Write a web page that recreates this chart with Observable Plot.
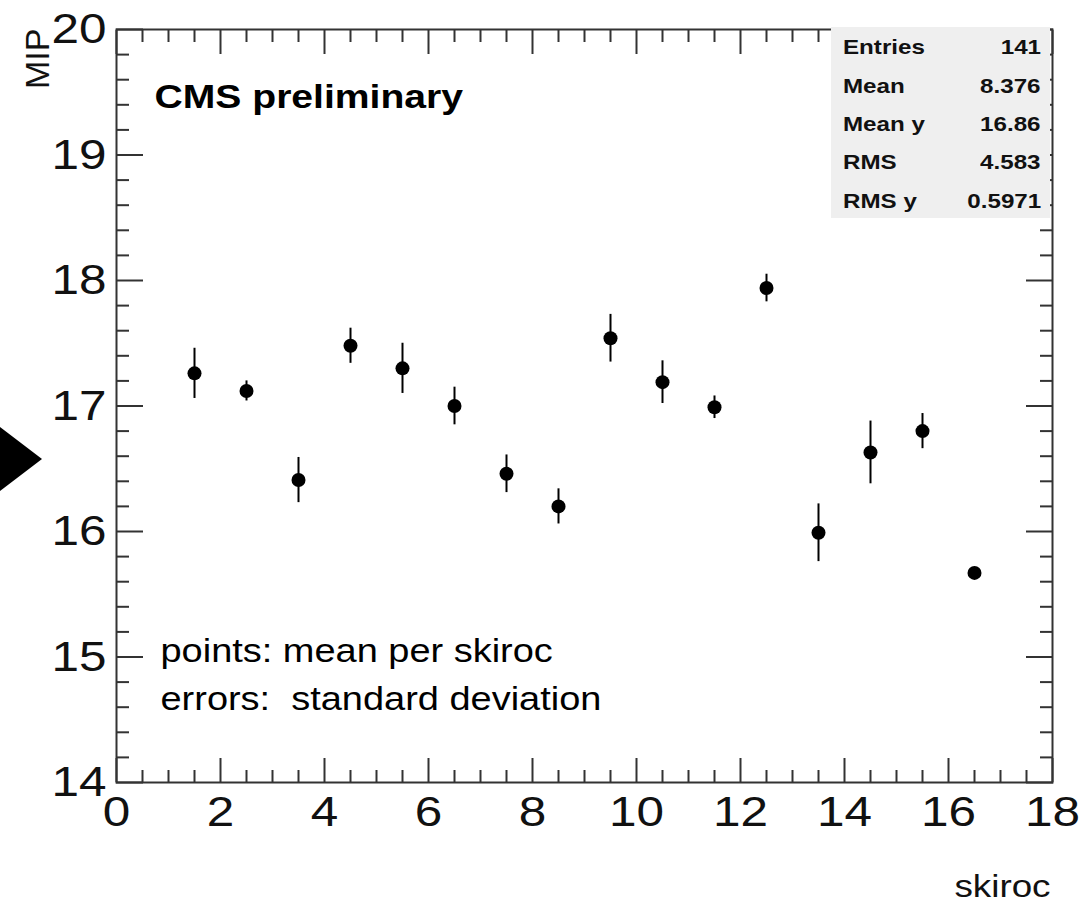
<!DOCTYPE html>
<html>
<head>
<meta charset="utf-8">
<script src="https://cdn.jsdelivr.net/npm/d3@7"></script>
<script src="https://cdn.jsdelivr.net/npm/@observablehq/plot@0.6"></script>
<style>
  html, body { margin: 0; padding: 0; background: white; }
  #wrap { position: relative; width: 1080px; height: 903px; overflow: hidden; font-family: 'Liberation Sans', Arial, Helvetica, sans-serif; }
  svg text { white-space: pre; }
  #arrow { position: absolute; left: 0; top: 427px; width: 0; height: 0;
    border-top: 32px solid transparent; border-bottom: 32px solid transparent; border-left: 42px solid black; }
  #stats { position: absolute; left: 831px; top: 27px; width: 219px; height: 191px; background: #efefef; }
  #stats .row { position: absolute; left: 0; width: 100%; height: 24px; font-weight: bold; font-size: 21px; line-height: 24px; color: #111; }
  #stats .lab { position: absolute; left: 12px; transform: scaleX(1.15); transform-origin: left center; }
  #stats .val { position: absolute; right: 9px; transform: scaleX(1.15); transform-origin: right center; }
</style>
</head>
<body>
<div id="wrap">
  <div id="chart"></div>
  <div id="arrow"></div>
  <div id="stats"></div>
</div>
<script>
// ---- data ----
const skiroc = [1.5, 2.5, 3.5, 4.5, 5.5, 6.5, 7.5, 8.5, 9.5, 10.5, 11.5, 12.5, 13.5, 14.5, 15.5, 16.5];
const mipMean = [17.26, 17.12, 16.41, 17.48, 17.30, 17.00, 16.46, 16.20, 17.54, 17.19, 16.99, 17.94, 15.99, 16.63, 16.80, 15.67];
const mipStd = [0.20, 0.08, 0.18, 0.14, 0.20, 0.15, 0.15, 0.14, 0.19, 0.17, 0.09, 0.11, 0.23, 0.25, 0.14, 0.03];

const xMajor = [0, 2, 4, 6, 8, 10, 12, 14, 16, 18];
const yMajor = [14, 15, 16, 17, 18, 19, 20];
const xMinor = d3.range(0, 18.001, 0.5).filter(v => Math.abs(v / 2 - Math.round(v / 2)) > 1e-6);
const yMinor = d3.range(14, 20.001, 0.2).map(v => +v.toFixed(1)).filter(v => Math.abs(v - Math.round(v)) > 1e-6);

const statLabels = ["Entries", "Mean", "Mean y", "RMS", "RMS y"];
const statValues = ["141", "8.376", "16.86", "4.583", "0.5971"];

const annotations = ["CMS preliminary", "points: mean per skiroc", "errors:  standard deviation"];

const data = skiroc.map((s, i) => ({ skiroc: s, mip: mipMean[i], err: mipStd[i] }));

const axisColor = "#333";
const noText = () => "";

const chart = Plot.plot({
  width: 1080,
  height: 903,
  marginLeft: 116,
  marginRight: 28,
  marginTop: 29,
  marginBottom: 121,
  style: { fontFamily: "'Liberation Sans', Arial, Helvetica, sans-serif", background: "white", color: "black" },
  x: { domain: [0, 18] },
  y: { domain: [14, 20] },
  marks: [
    // ticks (inward) bottom / top
    Plot.axisX({ anchor: "bottom", ticks: xMajor, tickSize: -24, tickFormat: noText, label: null, stroke: axisColor, strokeWidth: 2 }),
    Plot.axisX({ anchor: "bottom", ticks: xMinor, tickSize: -12, tickFormat: noText, label: null, stroke: axisColor, strokeWidth: 2 }),
    Plot.axisX({ anchor: "top", ticks: xMajor, tickSize: -24, tickFormat: noText, label: null, stroke: axisColor, strokeWidth: 2 }),
    Plot.axisX({ anchor: "top", ticks: xMinor, tickSize: -12, tickFormat: noText, label: null, stroke: axisColor, strokeWidth: 2 }),
    // ticks left / right
    Plot.axisY({ anchor: "left", ticks: yMajor, tickSize: -27, tickFormat: noText, label: null, stroke: axisColor, strokeWidth: 2 }),
    Plot.axisY({ anchor: "left", ticks: yMinor, tickSize: -13, tickFormat: noText, label: null, stroke: axisColor, strokeWidth: 2 }),
    Plot.axisY({ anchor: "right", ticks: yMajor, tickSize: -27, tickFormat: noText, label: null, stroke: axisColor, strokeWidth: 2 }),
    Plot.axisY({ anchor: "right", ticks: yMinor, tickSize: -13, tickFormat: noText, label: null, stroke: axisColor, strokeWidth: 2 }),
    // tick labels
    Plot.axisX({ anchor: "bottom", ticks: xMajor, tickSize: 0, tickPadding: 13, fontSize: 43, label: null, tickFormat: d => String(d), fill: "#111" }),
    Plot.axisY({ anchor: "left", ticks: yMajor, tickSize: 0, tickPadding: 10, fontSize: 43, label: null, tickFormat: d => String(d), fill: "#111" }),
    Plot.frame({ stroke: axisColor, strokeWidth: 2 }),
    // error bars and points
    Plot.ruleX(data, { x: "skiroc", y1: d => d.mip - d.err, y2: d => d.mip + d.err, stroke: "black", strokeWidth: 2 }),
    Plot.dot(data, { x: "skiroc", y: "mip", r: 7, fill: "black", stroke: "none" }),
    // annotations
    Plot.text([annotations[0]], { text: d => d, frameAnchor: "top-left", textAnchor: "start", lineAnchor: "middle", dx: 38, dy: 68, fontSize: 34, fontWeight: "bold", fill: "black" }),
    Plot.text([annotations[1]], { text: d => d, frameAnchor: "top-left", textAnchor: "start", lineAnchor: "middle", dx: 44, dy: 622, fontSize: 33, fill: "black" }),
    Plot.text([annotations[2]], { text: d => d, frameAnchor: "top-left", textAnchor: "start", lineAnchor: "middle", dx: 44, dy: 670, fontSize: 33, fill: "black" }),
    // axis titles
    Plot.text(["skiroc"], { text: d => d, frameAnchor: "bottom-right", textAnchor: "end", lineAnchor: "middle", dx: -2, dy: 104, fontSize: 32, fill: "#111" }),
    Plot.text(["MIP"], { text: d => d, frameAnchor: "top-left", textAnchor: "end", lineAnchor: "middle", rotate: -90, dx: -78, dy: -1, fontSize: 34, fill: "#111" })
  ]
});

document.getElementById("chart").appendChild(chart);

// horizontal stretch of glyphs as in the reference picture
chart.querySelectorAll("text").forEach(t => {
  if (t.textContent === "MIP" || t.textContent === "") return;
  const len = t.getComputedTextLength();
  if (len > 0) {
    t.setAttribute("textLength", (len * 1.15).toFixed(2));
    t.setAttribute("lengthAdjust", "spacingAndGlyphs");
  }
});

// statistics box
const stats = d3.select("#stats");
const rowTops = [8, 47, 85, 123, 162];
statLabels.forEach((lab, i) => {
  const row = stats.append("div").attr("class", "row").style("top", rowTops[i] + "px");
  row.append("span").attr("class", "lab").text(lab);
  row.append("span").attr("class", "val").text(statValues[i]);
});
</script>
</body>
</html>
